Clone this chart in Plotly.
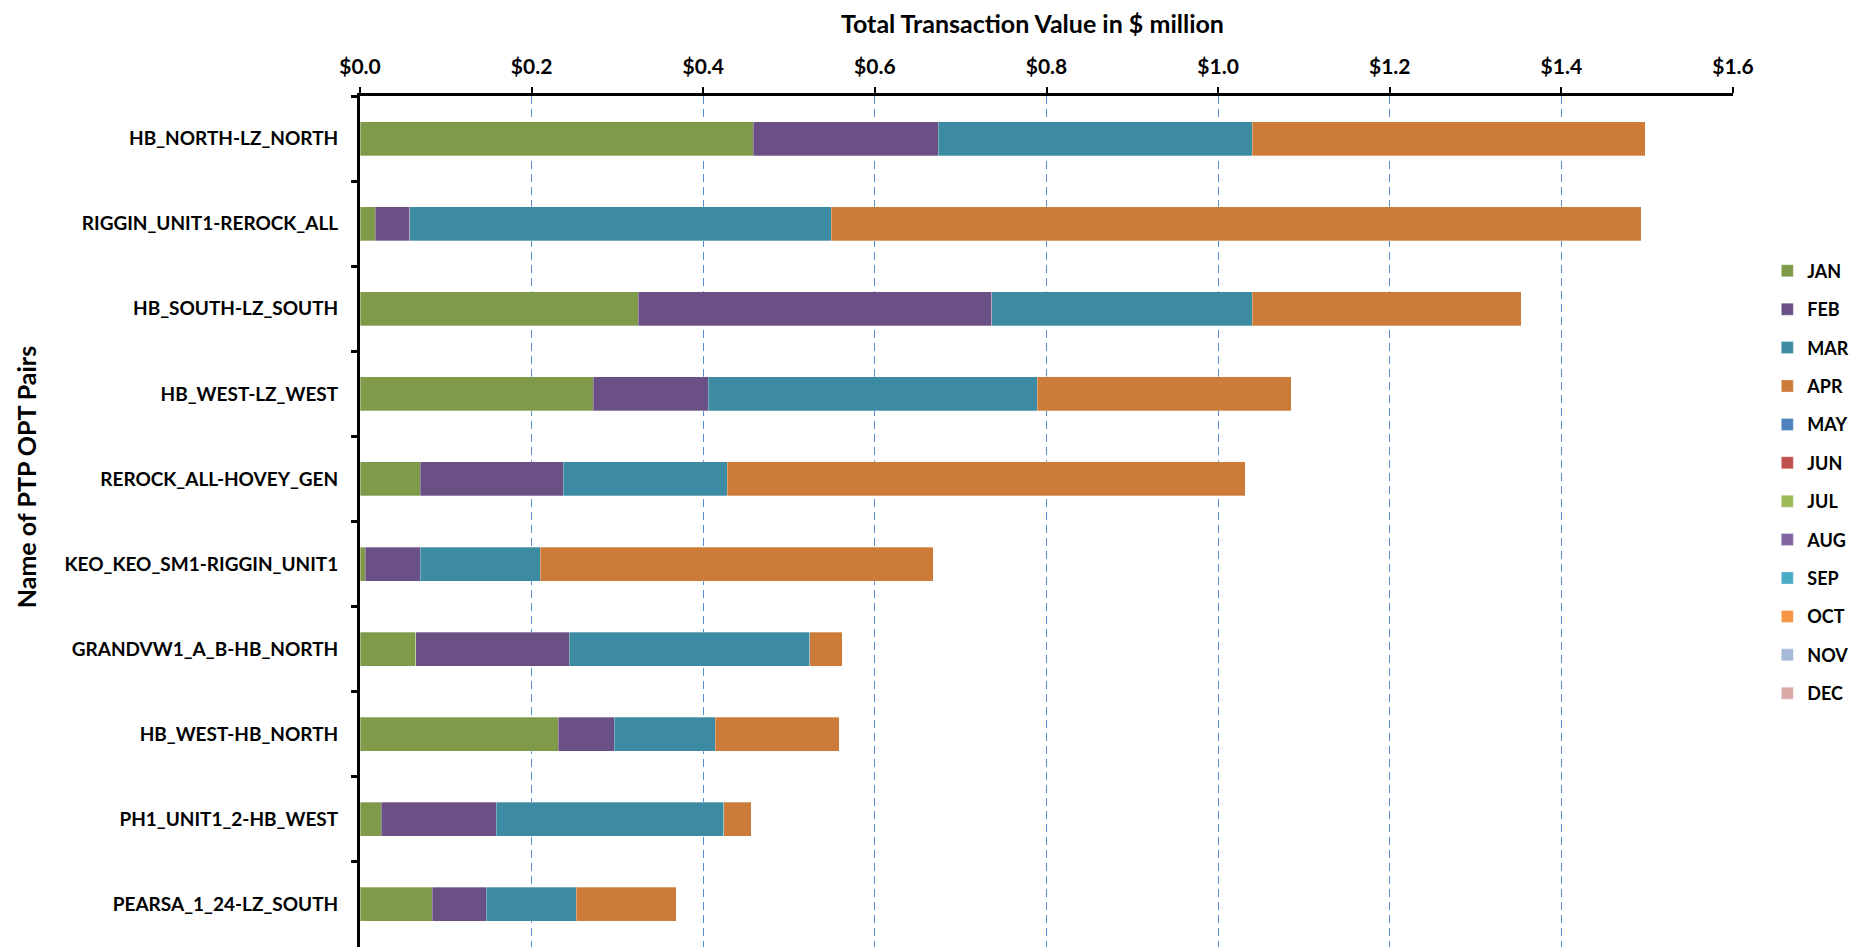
import plotly.graph_objects as go

pairs = ["HB_NORTH-LZ_NORTH", "RIGGIN_UNIT1-REROCK_ALL", "HB_SOUTH-LZ_SOUTH", "HB_WEST-LZ_WEST",
         "REROCK_ALL-HOVEY_GEN", "KEO_KEO_SM1-RIGGIN_UNIT1", "GRANDVW1_A_B-HB_NORTH",
         "HB_WEST-HB_NORTH", "PH1_UNIT1_2-HB_WEST", "PEARSA_1_24-LZ_SOUTH"]

months = ["JAN", "FEB", "MAR", "APR", "MAY", "JUN", "JUL", "AUG", "SEP", "OCT", "NOV", "DEC"]

jan = [0.458, 0.018, 0.324, 0.272, 0.070, 0.006, 0.065, 0.231, 0.025, 0.084]
feb = [0.216, 0.040, 0.412, 0.134, 0.167, 0.064, 0.179, 0.065, 0.134, 0.063]
mar = [0.366, 0.491, 0.304, 0.383, 0.191, 0.140, 0.280, 0.118, 0.265, 0.105]
apr = [0.458, 0.944, 0.313, 0.296, 0.604, 0.458, 0.038, 0.145, 0.032, 0.117]
zeros = [0.0] * 10

values = [jan, feb, mar, apr] + [zeros] * 8

colors = ["#7F9A48", "#6A5085", "#3D8BA2", "#CC7B39", "#4F81BD", "#C0504D",
          "#9BBB59", "#8064A2", "#4BACC6", "#F79646", "#A7B9D9", "#D9A9A8"]

tick_vals = [0, 0.2, 0.4, 0.6, 0.8, 1.0, 1.2, 1.4, 1.6]
tick_text = ["$0.0", "$0.2", "$0.4", "$0.6", "$0.8", "$1.0", "$1.2", "$1.4", "$1.6"]

FONT = "Lato"

fig = go.Figure()
for m, v, c in zip(months, values, colors):
    fig.add_trace(go.Bar(
        y=pairs, x=v, name=m, orientation="h", legendgroup=m,
        marker=dict(color=c, line=dict(color="rgba(255,255,255,0.5)", width=0.6)),
    ))

fig.update_layout(
    barmode="stack",
    bargap=0.6,
    width=1868, height=949,
    margin=dict(l=352, r=143, t=88, b=10),
    plot_bgcolor="white",
    paper_bgcolor="white",
    font=dict(family=FONT, size=18, color="black"),
    legend=dict(
        x=1.025, y=0.816, xanchor="left", yanchor="top",
        font=dict(family=FONT, size=18, color="black", weight="bold"),
        tracegroupgap=12, itemwidth=30,
    ),
    xaxis=dict(
        side="top", range=[0, 1.6], tickvals=tick_vals, ticktext=tick_text,
        tickfont=dict(family=FONT, size=21, color="black", weight="bold"),
        showline=True, linecolor="black", linewidth=3,
        ticks="outside", ticklen=6, tickwidth=2, tickcolor="black",
        showgrid=True, gridcolor="#5B8ED0", griddash="8px,5px", gridwidth=1,
        zeroline=False, fixedrange=True, ticklabelstandoff=5,
    ),
    yaxis=dict(
        autorange="reversed", showline=True, linecolor="black", linewidth=3,
        ticks="outside", ticklen=6, tickwidth=3, tickcolor="black",
        tickson="boundaries", showgrid=False,
        tickfont=dict(family=FONT, size=19, color="black", weight="bold"),
        ticklabelstandoff=15,
    ),
    annotations=[
        dict(text="Total Transaction Value in $ million", xref="paper", yref="paper",
             x=0.490, y=1.086, showarrow=False, xanchor="center", yanchor="middle",
             font=dict(family=FONT, size=25, color="black", weight="bold")),
        dict(text="Name of PTP OPT Pairs", xref="paper", yref="paper",
             x=-0.2433, y=0.552, showarrow=False, textangle=-90,
             xanchor="center", yanchor="middle",
             font=dict(family=FONT, size=25, color="black", weight="bold")),
    ],
)

fig.write_html("out.html")
